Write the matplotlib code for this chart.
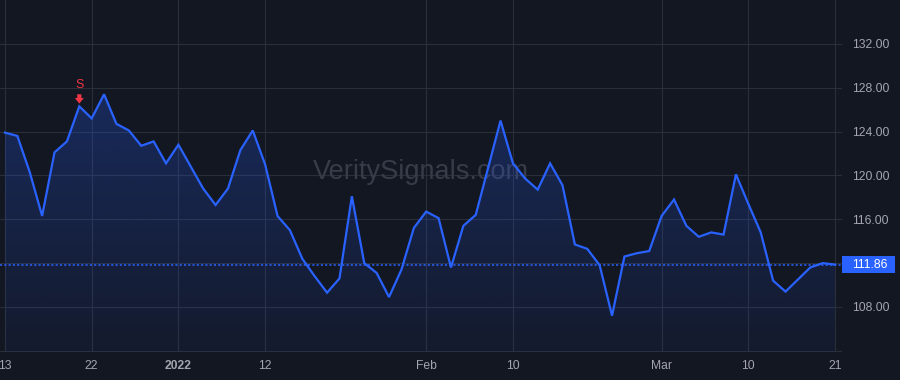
import numpy as np
import pandas as pd
import matplotlib
matplotlib.use('Agg')
import matplotlib.pyplot as plt
from matplotlib.patches import Rectangle
import matplotlib.transforms as mtransforms

# trading days (US market holidays removed)
dates = pd.bdate_range('2021-12-13', '2022-03-21', freq='C',
                       holidays=['2021-12-24', '2022-01-17', '2022-02-21'])

# closing prices
prices = [123.9, 123.6, 120.3, 116.3, 122.1, 123.1, 126.3, 125.2, 127.4, 124.7,
          124.1, 122.7, 123.1, 121.1, 122.8, 120.8, 118.8, 117.3, 118.8, 122.3,
          124.1, 121.0, 116.3, 115.0, 112.4, 110.8, 109.3, 110.6, 118.1, 112.0,
          111.1, 108.9, 111.4, 115.2, 116.7, 116.1, 111.6, 115.4, 116.4, 120.7,
          125.0, 121.1, 119.7, 118.7, 121.1, 119.1, 113.7, 113.3, 111.8, 107.2,
          112.6, 112.9, 113.1, 116.3, 117.8, 115.4, 114.4, 114.8, 114.6, 120.1,
          117.4, 114.8, 110.4, 109.4, 110.5, 111.6, 112.0, 111.86]
last_price = 111.86

# sell signal
signal_date = '2021-12-21'
signal_text = 'S'

tick_dates = ['2021-12-13', '2021-12-22', '2022-01-03', '2022-01-12', '2022-02-01',
              '2022-02-10', '2022-03-01', '2022-03-10', '2022-03-21']
tick_labels = ['13', '22', '2022', '12', 'Feb', '10', 'Mar', '10', '21']
y_ticks = [108, 116, 120, 124, 128, 132]
y_grid = [104, 108, 112, 116, 120, 124, 128, 132]

bg = '#131722'
blue = '#2962ff'
grid_c = '#2a2e39'
txt_c = '#a3a6af'
red = '#f23645'

plt.rcParams['font.family'] = ['Liberation Sans', 'DejaVu Sans']

fig = plt.figure(figsize=(9, 3.8), dpi=100, facecolor=bg)
ax = fig.add_axes([0, 1 - 352 / 380, 842 / 900, 352 / 380])
ax.set_facecolor(bg)

x = np.arange(len(prices))
y = np.array(prices)

xmin, xmax = -0.40, 67.56
ymin, ymax = 103.89, 136.0

# grid
for g in y_grid:
    ax.axhline(g, color=grid_c, lw=0.8, zorder=0)
tick_idx = [dates.get_loc(pd.Timestamp(d)) for d in tick_dates]
for t in tick_idx:
    ax.axvline(t, color=grid_c, lw=0.8, zorder=0)

# gradient fill under the line
poly = ax.fill_between(x, y, ymin, color='none', lw=0)
grad = np.linspace(0.05, 0.26, 256).reshape(-1, 1)
rgba = np.zeros((256, 1, 4))
rgba[:, :, 0] = 41 / 255
rgba[:, :, 1] = 98 / 255
rgba[:, :, 2] = 1.0
rgba[:, :, 3] = grad
img = ax.imshow(rgba, extent=[x[0], x[-1], ymin, y.max()], origin='lower',
                aspect='auto', zorder=1)
path = poly.get_paths()[0]
img.set_clip_path(path, transform=ax.transData)
ax.set_xlim(xmin, xmax)
ax.set_ylim(ymin, ymax)

ax.plot(x, y, color=blue, lw=1.6, zorder=3, solid_joinstyle='miter')

# last price line
ax.axhline(last_price, color=blue, lw=1.1, ls=(0, (1.4, 1.4)), zorder=2)

# watermark
ax.text(0.5, 0.51, 'VeritySignals.com', transform=ax.transAxes, ha='center',
        va='center', fontsize=19.5, color='#383c48', zorder=0)

# signal
si = dates.get_loc(pd.Timestamp(signal_date))
ax.text(si, 128.25, signal_text, color=red, fontsize=9, ha='center', va='center', zorder=4)
ax.annotate('', xy=(si, 126.55), xytext=(si, 127.4),
            arrowprops=dict(arrowstyle='simple,head_width=0.65,head_length=0.4,tail_width=0.3',
                            color=red, lw=0, shrinkA=0, shrinkB=0), zorder=4)

# axes
ax.set_xticks(tick_idx)
ax.set_xticklabels(tick_labels)
for lab in ax.get_xticklabels():
    if lab.get_text() == '2022':
        lab.set_fontweight('bold')
ax.yaxis.tick_right()
ax.set_yticks(y_ticks)
ax.set_yticklabels(['%.2f' % v for v in y_ticks])
ax.tick_params(axis='both', length=0, colors=txt_c, labelsize=8.7)
ax.tick_params(axis='y', pad=7.5)
ax.tick_params(axis='x', pad=6)
for s in ax.spines.values():
    s.set_visible(False)

# price label on the axis
trans = mtransforms.blended_transform_factory(ax.transAxes, ax.transData)
ax.add_patch(Rectangle((1.0, last_price - 0.75), 53 / 842, 1.5, transform=trans,
                       facecolor=blue, edgecolor='none', clip_on=False, zorder=5))
ax.text(1 + 10 / 842, last_price, '%.2f' % last_price, transform=trans, color='white',
        fontsize=8.7, ha='left', va='center', zorder=6, clip_on=False)

fig.savefig('out.png', dpi=100, facecolor=bg)
